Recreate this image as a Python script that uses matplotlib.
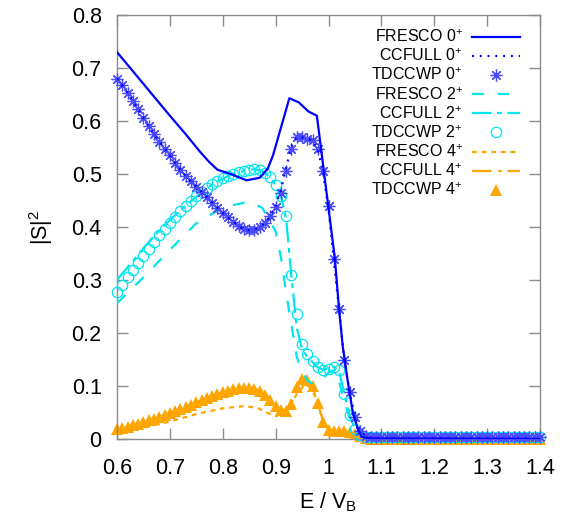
import matplotlib
matplotlib.use("Agg")
import matplotlib.pyplot as plt

plt.rcParams['font.family'] = ['Liberation Sans', 'DejaVu Sans']
plt.rcParams['mathtext.fontset'] = 'custom'
plt.rcParams['mathtext.rm'] = 'Liberation Sans'
plt.rcParams['mathtext.it'] = 'Liberation Sans'
plt.rcParams['lines.scale_dashes'] = False

# ---------------- data ----------------
# common energy grid of the coupled-channel / TDCCWP calculations
E_grid = [0.60, 0.61, 0.62, 0.63, 0.64, 0.65, 0.66, 0.67, 0.68, 0.69,
          0.70, 0.71, 0.72, 0.73, 0.74, 0.75, 0.76, 0.77, 0.78, 0.79,
          0.80, 0.81, 0.82, 0.83, 0.84, 0.85, 0.86, 0.87, 0.88, 0.89,
          0.90, 0.91, 0.92, 0.93, 0.94, 0.95, 0.96, 0.97, 0.98, 0.99,
          1.00, 1.01, 1.02, 1.03, 1.04, 1.05, 1.06, 1.07, 1.08, 1.09,
          1.10, 1.11, 1.12, 1.13, 1.14, 1.15, 1.16, 1.17, 1.18, 1.19,
          1.20, 1.21, 1.22, 1.23, 1.24, 1.25, 1.26, 1.27, 1.28, 1.29,
          1.30, 1.31, 1.32, 1.33, 1.34, 1.35, 1.36, 1.37, 1.38, 1.39,
          1.40]

tdccwp_0 = [0.680, 0.667, 0.653, 0.638, 0.622, 0.606, 0.590, 0.575, 0.561, 0.548,
            0.535, 0.521, 0.508, 0.496, 0.486, 0.476, 0.466, 0.456, 0.446, 0.436,
            0.427, 0.418, 0.410, 0.402, 0.396, 0.394, 0.395, 0.400, 0.408, 0.420,
            0.437, 0.465, 0.505, 0.548, 0.570, 0.570, 0.566, 0.565, 0.548, 0.505,
            0.440, 0.340, 0.245, 0.150, 0.088, 0.042, 0.016, 0.006, 0.004, 0.004,
            0.004, 0.004, 0.004, 0.004, 0.004, 0.004, 0.004, 0.004, 0.004, 0.004,
            0.004, 0.004, 0.004, 0.004, 0.004, 0.004, 0.004, 0.004, 0.004, 0.004,
            0.004, 0.004, 0.004, 0.004, 0.004, 0.004, 0.004, 0.004, 0.004, 0.004,
            0.004]

ccfull_0 = [0.680, 0.667, 0.653, 0.638, 0.622, 0.606, 0.590, 0.575, 0.561, 0.548,
            0.535, 0.521, 0.508, 0.496, 0.486, 0.476, 0.466, 0.456, 0.446, 0.436,
            0.427, 0.418, 0.410, 0.402, 0.396, 0.394, 0.395, 0.400, 0.408, 0.421,
            0.440, 0.470, 0.512, 0.552, 0.570, 0.569, 0.566, 0.564, 0.545, 0.500,
            0.435, 0.338, 0.243, 0.150, 0.088, 0.042, 0.016, 0.006, 0.002, 0.001,
            0.001, 0.001, 0.001, 0.001, 0.001, 0.001, 0.001, 0.001, 0.001, 0.001,
            0.001, 0.001, 0.001, 0.001, 0.001, 0.001, 0.001, 0.001, 0.001, 0.001,
            0.001, 0.001, 0.001, 0.001, 0.001, 0.001, 0.001, 0.001, 0.001, 0.001,
            0.001]

tdccwp_2 = [0.277, 0.291, 0.305, 0.319, 0.332, 0.345, 0.358, 0.371, 0.384, 0.396,
            0.408, 0.419, 0.430, 0.440, 0.449, 0.458, 0.466, 0.474, 0.481, 0.487,
            0.492, 0.496, 0.500, 0.503, 0.506, 0.508, 0.509, 0.507, 0.502, 0.494,
            0.480, 0.458, 0.420, 0.310, 0.235, 0.180, 0.160, 0.147, 0.135, 0.130,
            0.132, 0.135, 0.130, 0.085, 0.045, 0.018, 0.007, 0.004, 0.004, 0.004,
            0.004, 0.004, 0.004, 0.004, 0.004, 0.004, 0.004, 0.004, 0.004, 0.004,
            0.004, 0.004, 0.004, 0.004, 0.004, 0.004, 0.004, 0.004, 0.004, 0.004,
            0.004, 0.004, 0.004, 0.004, 0.004, 0.004, 0.004, 0.004, 0.004, 0.004,
            0.004]

ccfull_2 = [0.300, 0.312, 0.324, 0.336, 0.348, 0.360, 0.371, 0.382, 0.393, 0.403,
            0.413, 0.422, 0.431, 0.440, 0.449, 0.457, 0.465, 0.473, 0.480, 0.486,
            0.491, 0.496, 0.500, 0.503, 0.506, 0.508, 0.509, 0.507, 0.502, 0.493,
            0.478, 0.460, 0.415, 0.305, 0.210, 0.170, 0.155, 0.145, 0.135, 0.131,
            0.133, 0.136, 0.128, 0.085, 0.045, 0.018, 0.007, 0.003, 0.002, 0.001,
            0.001, 0.001, 0.001, 0.001, 0.001, 0.001, 0.001, 0.001, 0.001, 0.001,
            0.001, 0.001, 0.001, 0.001, 0.001, 0.001, 0.001, 0.001, 0.001, 0.001,
            0.001, 0.001, 0.001, 0.001, 0.001, 0.001, 0.001, 0.001, 0.001, 0.001,
            0.001]

tdccwp_4 = [0.018, 0.020, 0.023, 0.026, 0.029, 0.032, 0.035, 0.038, 0.041, 0.045,
            0.049, 0.053, 0.057, 0.061, 0.065, 0.069, 0.073, 0.077, 0.081, 0.085,
            0.088, 0.091, 0.094, 0.096, 0.097, 0.097, 0.095, 0.091, 0.083, 0.073,
            0.063, 0.055, 0.053, 0.066, 0.098, 0.113, 0.112, 0.100, 0.068, 0.033,
            0.017, 0.015, 0.016, 0.015, 0.013, 0.009, 0.005, 0.002, 0.000, 0.000,
            0.000, 0.000, 0.000, 0.000, 0.000, 0.000, 0.000, 0.000, 0.000, 0.000,
            0.000, 0.000, 0.000, 0.000, 0.000, 0.000, 0.000, 0.000, 0.000, 0.000,
            0.000, 0.000, 0.000, 0.000, 0.000, 0.000, 0.000, 0.000, 0.000, 0.000,
            0.000]

ccfull_4 = [0.018, 0.020, 0.023, 0.026, 0.029, 0.032, 0.035, 0.038, 0.041, 0.045,
            0.049, 0.053, 0.057, 0.061, 0.065, 0.069, 0.073, 0.077, 0.081, 0.085,
            0.088, 0.091, 0.094, 0.096, 0.097, 0.097, 0.095, 0.091, 0.083, 0.073,
            0.063, 0.055, 0.054, 0.068, 0.100, 0.113, 0.111, 0.098, 0.066, 0.032,
            0.017, 0.015, 0.016, 0.015, 0.013, 0.009, 0.005, 0.002, 0.001, 0.000,
            0.000, 0.000, 0.000, 0.000, 0.000, 0.000, 0.000, 0.000, 0.000, 0.000,
            0.000, 0.000, 0.000, 0.000, 0.000, 0.000, 0.000, 0.000, 0.000, 0.000,
            0.000, 0.000, 0.000, 0.000, 0.000, 0.000, 0.000, 0.000, 0.000, 0.000,
            0.000]

# FRESCO curves (coarser sampling)
E_fr0 = [0.60, 0.65, 0.70, 0.73, 0.757, 0.775, 0.79, 0.815, 0.845, 0.87,
         0.885, 0.895, 0.926, 0.944, 0.962, 0.978, 1.012, 1.02, 1.027, 1.037,
         1.046, 1.056, 1.063, 1.08, 1.40]
fresco_0 = [0.730, 0.670, 0.610, 0.575, 0.542, 0.522, 0.508, 0.500, 0.488, 0.493,
            0.510, 0.535, 0.643, 0.635, 0.618, 0.610, 0.341, 0.245, 0.174, 0.105,
            0.050, 0.017, 0.004, 0.001, 0.000]

E_fr2 = [0.60, 0.65, 0.70, 0.75, 0.80, 0.85, 0.875, 0.90, 0.91, 0.92,
         0.93, 0.94, 0.95, 0.96, 0.97, 0.98, 0.99, 1.00, 1.01, 1.02,
         1.03, 1.04, 1.05, 1.06, 1.08, 1.40]
fresco_2 = [0.256, 0.305, 0.357, 0.407, 0.437, 0.448, 0.436, 0.392, 0.343, 0.275,
            0.215, 0.155, 0.128, 0.110, 0.104, 0.108, 0.115, 0.125, 0.130, 0.108,
            0.072, 0.040, 0.018, 0.006, 0.001, 0.000]

E_fr4 = [0.60, 0.65, 0.70, 0.75, 0.80, 0.84, 0.865, 0.885, 0.90, 0.92,
         0.94, 0.955, 0.965, 0.975, 0.985, 0.995, 1.01, 1.03, 1.05, 1.07,
         1.40]
fresco_4 = [0.013, 0.021, 0.033, 0.047, 0.058, 0.062, 0.059, 0.049, 0.043, 0.050,
            0.085, 0.102, 0.098, 0.080, 0.050, 0.025, 0.012, 0.008, 0.004, 0.001,
            0.000]

x_ticks = [0.6, 0.7, 0.8, 0.9, 1.0, 1.1, 1.2, 1.3, 1.4]
x_ticklabels = ['0.6', '0.7', '0.8', '0.9', '1', '1.1', '1.2', '1.3', '1.4']
y_ticks = [0, 0.1, 0.2, 0.3, 0.4, 0.5, 0.6, 0.7, 0.8]
y_ticklabels = ['0', '0.1', '0.2', '0.3', '0.4', '0.5', '0.6', '0.7', '0.8']

# ---------------- figure ----------------
BLUE = '#0000ff'
ASTER = '#4a4aff'
CYAN = '#00e5ee'
ORANGE = '#ffa500'

fig = plt.figure(figsize=(5.79, 5.24), dpi=100)
ax = fig.add_axes([117/579, 85/524, 423/579, 424/524])

ax.plot(E_fr0, fresco_0, color=BLUE, lw=1.6, label='FRESCO 0$^{+}$', zorder=5)
ax.plot(E_grid, ccfull_0, color=BLUE, lw=1.6, dashes=(1.4, 4.2),
        label='CCFULL 0$^{+}$', zorder=5)
ax.plot(E_grid, tdccwp_0, ls='none', marker=(8, 2, 0), ms=8.5, mew=0.9,
        color=ASTER, label='TDCCWP 0$^{+}$', zorder=4, clip_on=False)

ax.plot(E_fr2, fresco_2, color=CYAN, lw=1.6, dashes=(8.5, 10),
        label='FRESCO 2$^{+}$', zorder=3)
ax.plot(E_grid, ccfull_2, color=CYAN, lw=1.6, dashes=(14, 4, 3.5, 4),
        label='CCFULL 2$^{+}$', zorder=3)
ax.plot(E_grid, tdccwp_2, ls='none', marker='o', ms=7.5, mew=0.9,
        mfc='none', mec=CYAN, label='TDCCWP 2$^{+}$', zorder=3, clip_on=False)

ax.plot(E_fr4, fresco_4, color=ORANGE, lw=1.6, dashes=(3.5, 3.4),
        label='FRESCO 4$^{+}$', zorder=2)
ax.plot(E_grid, ccfull_4, color=ORANGE, lw=1.6, dashes=(14, 5, 2.5, 4),
        label='CCFULL 4$^{+}$', zorder=2)
ax.plot(E_grid, tdccwp_4, ls='none', marker='^', ms=8.5, mew=0,
        color=ORANGE, label='TDCCWP 4$^{+}$', zorder=2, clip_on=False)

ax.set_xlim(0.6, 1.4)
ax.set_ylim(0, 0.8)
ax.set_xticks(x_ticks)
ax.set_xticklabels(x_ticklabels)
ax.set_yticks(y_ticks)
ax.set_yticklabels(y_ticklabels)

for s in ax.spines.values():
    s.set_color('#8c8c8c')
    s.set_linewidth(1.0)
ax.tick_params(direction='in', length=8, width=1.0, color='#8c8c8c',
               top=True, right=True, labelsize=15.5, pad=11)
ax.tick_params(axis='x', pad=14)

ax.set_xlabel('E / V$_\\mathrm{B}$', fontsize=15.5, labelpad=8)
ax.set_ylabel('|S|$^2$', fontsize=15.5, labelpad=12)

leg = ax.legend(loc='upper right', bbox_to_anchor=(0.953, 0.968),
                frameon=False, markerfirst=False, fontsize=11.5,
                handlelength=3.0, handletextpad=0.6, labelspacing=0.16,
                borderpad=0, borderaxespad=0)

fig.savefig('out.png', dpi=100)
